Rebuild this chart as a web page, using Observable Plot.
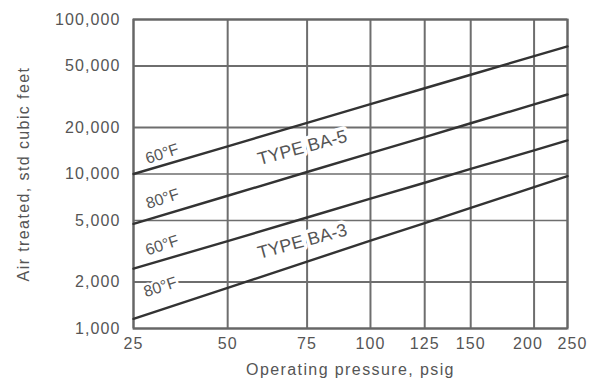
<!DOCTYPE html>
<html>
<head>
<meta charset="utf-8">
<script src="https://cdn.jsdelivr.net/npm/d3@7"></script>
<script src="https://cdn.jsdelivr.net/npm/@observablehq/plot@0.6"></script>
<style>
  html, body { margin: 0; padding: 0; background: #fff; }
  g[aria-label="type-label"] text { letter-spacing: 2.6px; }
  g[aria-label="temp-label"] text { letter-spacing: 0.6px; }
  g[aria-label="x-axis tick label"] text, g[aria-label="y-axis tick label"] text { letter-spacing: 1.1px; }
  g[aria-label="x-axis label"] text, g[aria-label="y-axis label"] text { letter-spacing: 1.4px; }
</style>
</head>
<body>
<div id="chart"></div>
<script>
// ---- data ----
const pressure = [25, 50, 75, 100, 125, 150, 200, 250];          // psig
const xTicks = [25, 50, 75, 100, 125, 150, 200, 250];
const yTicks = [1000, 2000, 5000, 10000, 20000, 50000, 100000];

const ba5At60F = [10000, 15100, 21400, 28300, 35900, 43900, 57900, 66900];
const ba5At80F = [4760, 7230, 10300, 13650, 17350, 21300, 28200, 32700];
const ba3At60F = [2440, 3680, 5230, 6930, 8780, 10800, 14200, 16500];
const ba3At80F = [1155, 1830, 2710, 3700, 4810, 6030, 8230, 9680];

const seriesNames = ["BA-5 60°F", "BA-5 80°F", "BA-3 60°F", "BA-3 80°F"];
const seriesValues = [ba5At60F, ba5At80F, ba3At60F, ba3At80F];

const tempLabels = ["60°F", "80°F", "60°F", "80°F"];
const tempLabelPressure = [32.6, 32.7, 32.6, 32.1];
const tempLabelAir = [13500, 6900, 3450, 1850];

const typeLabels = ["TYPE BA-5", "TYPE BA-3"];
const typeLabelPressure = [73.5, 73.5];
const typeLabelAir = [14800, 3660];

// ---- tables for the library ----
const rows = [];
seriesNames.forEach((s, i) => {
  pressure.forEach((p, j) => rows.push({series: s, pressure: p, air: seriesValues[i][j]}));
});
const tempRows = tempLabels.map((t, i) => ({text: t, pressure: tempLabelPressure[i], air: tempLabelAir[i]}));
const typeRows = typeLabels.map((t, i) => ({text: t, pressure: typeLabelPressure[i], air: typeLabelAir[i]}));

// layout
const W = 590, H = 380;
const mL = 133, mR = 23, mT = 19, mB = 52;
// the pressure grid of the original chart is irregularly spaced: relative position of each gridline
const xFrac = [0, 0.217, 0.400, 0.546, 0.671, 0.777, 0.923, 1];
const xRange = xFrac.map(f => mL + f * (W - mL - mR));

const ink = "#555";
const xMain = xTicks.filter(d => d < 200);

const chart = Plot.plot({
  width: W,
  height: H,
  marginLeft: mL,
  marginRight: mR,
  marginTop: mT,
  marginBottom: mB,
  style: {fontFamily: "'Liberation Sans', Arial, Helvetica, sans-serif", fontSize: "16px", color: ink, background: "#fff"},
  x: {type: "linear", domain: xTicks, range: xRange},
  y: {type: "log", domain: [1000, 100000]},
  marks: [
    Plot.ruleY(yTicks, {stroke: "#6e6e6e", strokeWidth: d => (d === 5000 || d === 10000) ? 1.4 : 2.2}),
    Plot.ruleX(xTicks, {stroke: "#6e6e6e", strokeWidth: 2}),
    Plot.frame({stroke: "#666", strokeWidth: 2}),
    Plot.line(rows, {x: "pressure", y: "air", z: "series", stroke: "#333", strokeWidth: 2.4}),
    Plot.text(tempRows, {x: "pressure", y: "air", text: "text", rotate: -18, fill: ink, stroke: "#fff", strokeWidth: 5, fontSize: 16, ariaLabel: "temp-label"}),
    Plot.text(typeRows, {x: "pressure", y: "air", text: "text", rotate: -15, fill: ink, stroke: "#fff", strokeWidth: 7, fontSize: 18, ariaLabel: "type-label"}),
    Plot.axisX({ticks: xMain, tickSize: 0, tickPadding: 9, tickFormat: d => String(d), fontSize: 16,
      label: "Operating pressure, psig", labelAnchor: "center", labelArrow: "none", labelOffset: 46}),
    Plot.axisX({ticks: [200], tickSize: 0, tickPadding: 9, tickFormat: d => String(d), fontSize: 16, dx: -6, label: null}),
    Plot.axisX({ticks: [250], tickSize: 0, tickPadding: 9, tickFormat: d => String(d), fontSize: 16, dx: 5, label: null}),
    Plot.axisY({ticks: yTicks, tickSize: 0, tickPadding: 13, tickFormat: d3.format(","), fontSize: 16,
      label: "Air treated, std cubic feet", labelAnchor: "center", labelArrow: "none", labelOffset: 116})
  ]
});
document.getElementById("chart").appendChild(chart);
</script>
</body>
</html>
